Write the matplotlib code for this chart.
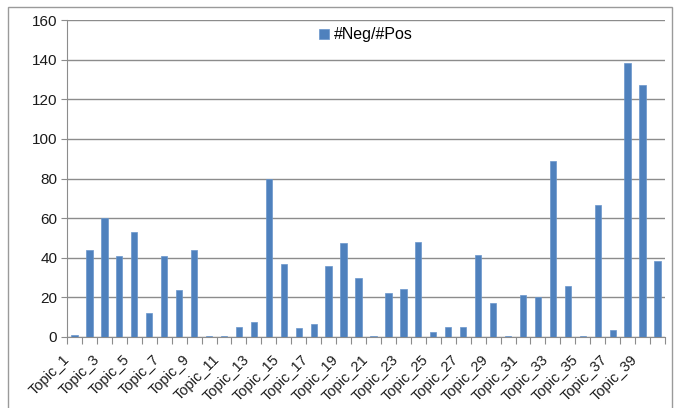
import matplotlib
matplotlib.use("Agg")
import matplotlib.pyplot as plt
from matplotlib.patches import Rectangle
import matplotlib.transforms as mtrans
import numpy as np

categories = [f"Topic_{i}" for i in range(1, 41)]
values = [0.8, 44, 60, 41, 53, 12, 41, 23.5, 44, 0.5,
          0.5, 5, 7.5, 80, 37, 4.5, 6.5, 36, 47.5, 30,
          0.5, 22, 24, 48, 2.5, 5, 5, 41.5, 17, 0.5,
          21, 20, 89, 25.5, 0.5, 66.5, 3.5, 138.5, 127, 38.5]
series_name = "#Neg/#Pos"

plt.rcParams['font.family'] = ['Liberation Sans', 'DejaVu Sans']

fig = plt.figure(figsize=(6.76, 4.08), dpi=100)
W, H = 676, 408
ax = fig.add_axes([67 / W, 1 - 337 / H, (665 - 67) / W, (337 - 20) / H])

x = np.arange(len(categories))
ax.bar(x, values, width=0.42, color='#4F81BD', edgecolor='#6A96CC', linewidth=0.5,
       label=series_name, zorder=3)

ax.set_xlim(-0.5, len(categories) - 0.5)
ax.set_ylim(0, 160)
ax.set_yticks(np.arange(0, 161, 20))
ax.yaxis.grid(True, color='#8C8C8C', linewidth=1.0, zorder=0)
ax.set_axisbelow(True)

for s in ['top', 'right']:
    ax.spines[s].set_visible(False)
ax.spines['left'].set_color('#8C8C8C')
ax.spines['bottom'].set_color('#8C8C8C')

ax.tick_params(axis='y', length=4, color='#8C8C8C', labelsize=11, pad=3, labelcolor='#1a1a1a')
# category boundary ticks
ax.set_xticks(np.arange(-0.5, len(categories), 1), minor=False)
ax.set_xticklabels([])
ax.tick_params(axis='x', which='major', length=5, color='#8C8C8C')
ax.set_xticks(x[::2], minor=True)
ax.set_xticklabels(categories[::2], minor=True, rotation=45, ha='right',
                   rotation_mode='anchor', fontsize=10.5, color='#1a1a1a')
ax.tick_params(axis='x', which='minor', length=0, pad=11)
offset = mtrans.ScaledTranslation(-12 / 100, 0, fig.dpi_scale_trans)
for lab in ax.get_xticklabels(minor=True):
    lab.set_transform(lab.get_transform() + offset)

leg = ax.legend(loc='center', bbox_to_anchor=(0.5, 0.953), frameon=False,
                fontsize=11.5, handlelength=0.6, handleheight=0.6, handletextpad=0.3)

fig.patches.append(Rectangle((8 / W, -0.01), (672 - 8) / W, 1 - 7 / H + 0.01,
                             transform=fig.transFigure, fill=False,
                             edgecolor='#9A9A9A', linewidth=1.0))

fig.savefig("out.png", dpi=100)
